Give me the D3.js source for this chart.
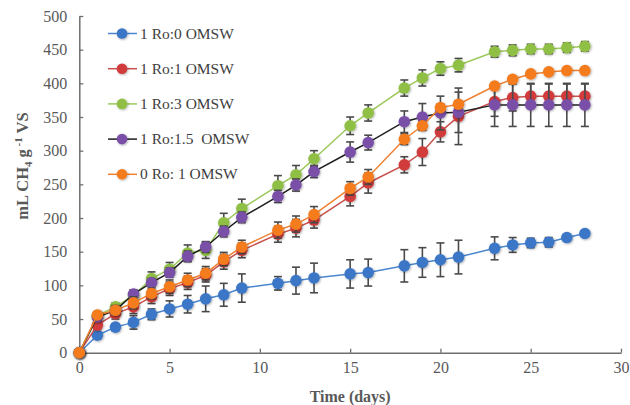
<!DOCTYPE html>
<html>
<head>
<meta charset="utf-8">
<script src="https://cdn.jsdelivr.net/npm/d3@7"></script>
<style>
  body { margin: 0; background: #fff; }
  text { font-family: "Liberation Serif", "Times New Roman", serif; }
</style>
</head>
<body>
<div id="chart"></div>
<script>
var days = [0, 1, 2, 3, 4, 5, 6, 7, 8, 9, 11, 12, 13, 15, 16, 18, 19, 20, 21, 23, 24, 25, 26, 27, 28];

var ro0 = [0, 26, 38, 45, 57, 65, 72, 80, 86, 96, 103, 107, 111, 117, 119, 129, 134, 138, 142, 155, 160, 163, 164, 171, 177];
var ro0Err = [1, 5, 5, 10, 8, 12, 13, 19, 17, 21, 10, 20, 22, 21, 20, 24, 22, 25, 25, 17, 11, 7, 7, 3, 3];

var ro1 = [0, 41, 58, 68, 83, 95, 104, 115, 135, 152, 176, 185, 197, 232, 252, 279, 298, 328, 351, 373, 379, 381, 381, 381, 381];
var ro1Err = [1, 6, 8, 10, 10, 10, 10, 10, 11, 11, 12, 13, 12, 14, 15, 12, 20, 15, 42, 22, 20, 18, 18, 18, 18];

var ro3 = [0, 55, 68, 85, 110, 124, 148, 152, 193, 214, 248, 264, 288, 337, 356, 393, 408, 422, 427, 447, 449, 451, 451, 453, 455];
var ro3Err = [1, 5, 6, 8, 10, 10, 12, 12, 14, 14, 15, 14, 12, 13, 12, 12, 12, 10, 10, 8, 8, 7, 7, 7, 7];

var ro15 = [0, 53, 63, 87, 104, 119, 143, 157, 180, 201, 232, 249, 269, 298, 312, 343, 350, 356, 357, 368, 368, 368, 368, 368, 368];
var ro15Err = [1, 5, 6, 6, 6, 7, 8, 8, 8, 8, 9, 9, 9, 15, 11, 16, 20, 25, 30, 32, 32, 32, 32, 32, 32];

var ro0b = [0, 56, 63, 74, 88, 98, 108, 118, 139, 157, 182, 191, 205, 244, 261, 317, 337, 364, 369, 396, 406, 414, 417, 419, 419];
var ro0bErr = [1, 5, 7, 9, 8, 10, 10, 10, 10, 10, 12, 12, 12, 10, 11, 8, 6, 5, 5, 4, 4, 3, 2, 2, 2];

var seriesNames = ["1 Ro:0 OMSW", "1 Ro:1 OMSW", "1 Ro:3 OMSW", "1 Ro:1.5  OMSW", "0 Ro: 1 OMSW"];
var seriesValues = [ro0, ro1, ro3, ro15, ro0b];
var seriesErrors = [ro0Err, ro1Err, ro3Err, ro15Err, ro0bErr];
var markerColors = ["#3b77c6", "#d13b3b", "#8fc044", "#7a4fa8", "#f47b1e"];
var lineColors = ["#4a86d0", "#c8504d", "#9bc95a", "#1e1e1e", "#f08030"];

var xTicks = [0, 5, 10, 15, 20, 25, 30];
var yTicks = [0, 50, 100, 150, 200, 250, 300, 350, 400, 450, 500];

var margin = {top: 16, right: 9, bottom: 52.3, left: 79.3},
    width = 630 - margin.left - margin.right,
    height = 405 - margin.top - margin.bottom;

var svg = d3.select("#chart")
            .append("svg")
                .attr("width", 630)
                .attr("height", 405);

// soft shadow under the markers
var defs = svg.append("defs");
defs.append("filter")
      .attr("id", "shadow")
      .attr("x", "-50%").attr("y", "-50%")
      .attr("width", "200%").attr("height", "200%")
    .append("feDropShadow")
      .attr("dx", 0.8).attr("dy", 0.8)
      .attr("stdDeviation", 1.2)
      .attr("flood-color", "#000")
      .attr("flood-opacity", 0.35);

var g = svg.append("g")
            .attr("transform", "translate(" + margin.left + "," + margin.top + ")");

var x = d3.scaleLinear().domain([0, 30]).range([0, width]);
var y = d3.scaleLinear().domain([0, 500]).range([height, 0]);

// axes
var xAxis = g.append("g")
    .attr("transform", "translate(0," + height + ")")
    .call(d3.axisBottom(x).tickValues(xTicks).tickSizeInner(-4).tickSizeOuter(0).tickPadding(9));

var yAxis = g.append("g")
    .call(d3.axisLeft(y).tickValues(yTicks).tickSizeInner(-4).tickSizeOuter(0).tickPadding(12));

[xAxis, yAxis].forEach(function(a) {
    a.select(".domain").attr("stroke", "#6e6e6e").attr("stroke-width", 1.5);
    a.selectAll(".tick line").attr("stroke", "#6e6e6e").attr("stroke-width", 1.3);
    a.selectAll(".tick text")
        .attr("fill", "#595959")
        .style("font-family", "'Liberation Serif', serif")
        .style("font-size", "16px");
});

// axis titles
svg.append("text")
    .attr("x", margin.left + x(15))
    .attr("y", 402)
    .attr("text-anchor", "middle")
    .attr("fill", "#595959")
    .style("font-size", "16px")
    .style("font-weight", "bold")
    .text("Time (days)");

var yTitle = svg.append("text")
    .attr("transform", "translate(28,166) rotate(-90)")
    .attr("text-anchor", "middle")
    .attr("fill", "#595959")
    .style("font-size", "16.5px")
    .style("font-weight", "bold");
yTitle.append("tspan").text("mL CH");
yTitle.append("tspan").attr("dy", 4).style("font-size", "11px").text("4");
yTitle.append("tspan").attr("dy", -4).text(" g");
yTitle.append("tspan").attr("dy", -6).style("font-size", "11px").text(" -1");
yTitle.append("tspan").attr("dy", 6).text(" VS");

var line = d3.line()
    .x(function(d) { return x(d[0]); })
    .y(function(d) { return y(d[1]); });

seriesValues.forEach(function(vals, i) {
    var pts = days.map(function(d, j) { return [d, vals[j], seriesErrors[i][j]]; });
    var s = g.append("g").attr("class", "series s" + i);

    s.append("path")
        .datum(pts)
        .attr("fill", "none")
        .attr("stroke", lineColors[i])
        .attr("stroke-width", 1.5)
        .attr("d", line);

    var bars = s.selectAll(".err")
        .data(pts)
        .enter().append("g")
        .attr("class", "err")
        .attr("stroke", "#4a4a4a")
        .attr("stroke-width", 1.6);

    bars.append("line")
        .attr("x1", function(d) { return x(d[0]); })
        .attr("x2", function(d) { return x(d[0]); })
        .attr("y1", function(d) { return y(d[1] - d[2]); })
        .attr("y2", function(d) { return y(d[1] + d[2]); });
    [-1, 1].forEach(function(sgn) {
        bars.append("line")
            .attr("x1", function(d) { return x(d[0]) - 4; })
            .attr("x2", function(d) { return x(d[0]) + 4; })
            .attr("y1", function(d) { return y(d[1] + sgn * d[2]); })
            .attr("y2", function(d) { return y(d[1] + sgn * d[2]); });
    });

    s.selectAll("circle")
        .data(pts)
        .enter().append("circle")
        .attr("cx", function(d) { return x(d[0]); })
        .attr("cy", function(d) { return y(d[1]); })
        .attr("r", 5.8)
        .attr("fill", markerColors[i])
        .attr("filter", "url(#shadow)");
});

// legend
var legend = svg.append("g").attr("class", "legend");
seriesNames.forEach(function(name, i) {
    var ly = 33.5 + i * 35.2;
    legend.append("line")
        .attr("x1", 108).attr("x2", 137)
        .attr("y1", ly).attr("y2", ly)
        .attr("stroke", lineColors[i])
        .attr("stroke-width", 1.5);
    legend.append("circle")
        .attr("cx", 122).attr("cy", ly)
        .attr("r", 5.3)
        .attr("fill", markerColors[i])
        .attr("filter", "url(#shadow)");
    legend.append("text")
        .attr("x", 140)
        .attr("y", ly + 5)
        .attr("fill", "#404040")
        .style("font-size", "15.5px")
        .style("white-space", "pre")
        .text(name);
});
</script>
</body>
</html>
